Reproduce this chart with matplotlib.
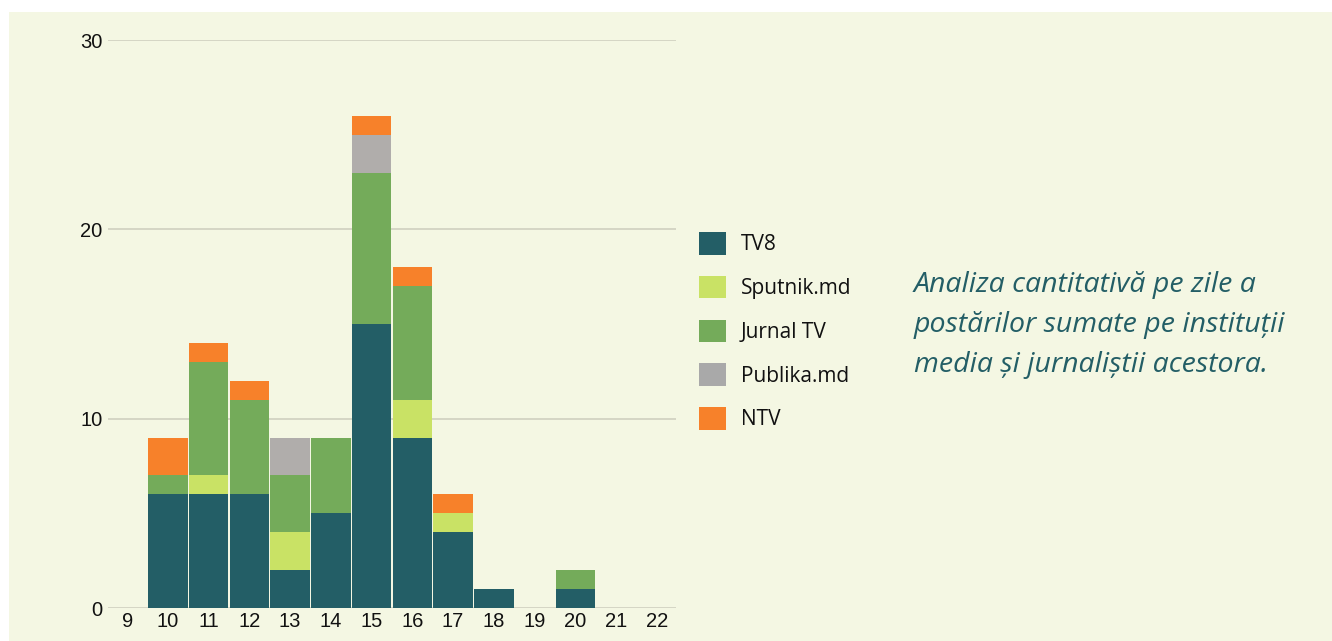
import matplotlib
matplotlib.use("Agg")
import matplotlib.pyplot as plt
import numpy as np
from matplotlib.patches import Rectangle, Patch

days = [9, 10, 11, 12, 13, 14, 15, 16, 17, 18, 19, 20, 21, 22]
tv8      = [0, 6, 6, 6, 2, 5, 15, 9, 4, 1, 0, 1, 0, 0]
sputnik  = [0, 0, 1, 0, 2, 0, 0, 2, 1, 0, 0, 0, 0, 0]
jurnal   = [0, 1, 6, 5, 3, 4, 8, 6, 0, 0, 0, 1, 0, 0]
publika  = [0, 0, 0, 0, 2, 0, 2, 0, 0, 0, 0, 0, 0, 0]
ntv      = [0, 2, 1, 1, 0, 0, 1, 1, 1, 0, 0, 0, 0, 0]
series_names = ["TV8", "Sputnik.md", "Jurnal TV", "Publika.md", "NTV"]
series = [tv8, sputnik, jurnal, publika, ntv]
colors = ["#235e66", "#c9e265", "#74ab5a", "#b0adab", "#f7812a"]
legend_colors = ["#235e66", "#c9e265", "#74ab5a", "#a9a9a9", "#f7812a"]
yticks = [0, 10, 20, 30]
caption = "Analiza cantitativă pe zile a\npostărilor sumate pe instituții\nmedia și jurnaliștii acestora."

W, H = 1332, 641
fig = plt.figure(figsize=(W / 100, H / 100), dpi=100)
fig.patch.set_facecolor("white")
bg = "#f4f7e3"
fig.patches.append(Rectangle((9 / W, 0), 1 - 9 / W, 1 - 12 / H,
                             transform=fig.transFigure, facecolor=bg,
                             edgecolor="none", zorder=-10))

ax = fig.add_axes([108 / W, 1 - 608 / H, (676 - 108) / W, (608 - 40) / H])
ax.set_facecolor(bg)
ax.patch.set_alpha(0)

x = np.arange(len(days))
bottom = np.zeros(len(days))
for name, vals, c in zip(series_names, series, colors):
    v = np.array(vals, dtype=float)
    ax.bar(x, v, bottom=bottom, width=0.97, color=c, edgecolor="none",
           label=name, zorder=3)
    bottom += v

ax.set_xlim(-0.47, len(days) - 1 + 0.47)
ax.set_ylim(0, 30)
ax.set_yticks(yticks)
ax.set_xticks(x)
ax.set_xticklabels([str(d) for d in days])
ax.grid(axis="y", color="#cfd0c0", linewidth=1.2, zorder=0)
for s in ax.spines.values():
    s.set_visible(False)
ax.tick_params(axis="both", length=0, labelsize=14.5, colors="#111111",
               labelfontfamily="Liberation Sans")
ax.tick_params(axis="y", pad=4)
ax.tick_params(axis="x", pad=3)

handles = [Patch(facecolor=c, edgecolor="none") for c in legend_colors]
leg = fig.legend(handles, series_names, loc="upper left",
                 bbox_to_anchor=(699 / W, 1 - 232 / H), frameon=False,
                 prop={"family": "Open Sans", "size": 15},
                 handlelength=1.3, handleheight=1.3, handletextpad=0.7,
                 labelspacing=0.98, borderpad=0, borderaxespad=0)
for t in leg.get_texts():
    t.set_color("#111111")

fig.text(914 / W, 1 - 271 / H, caption, ha="left", va="top",
         fontsize=20.5, style="italic", family="Open Sans", color="#235e66",
         linespacing=1.57)

fig.savefig("out.png", dpi=100, facecolor=fig.get_facecolor())
